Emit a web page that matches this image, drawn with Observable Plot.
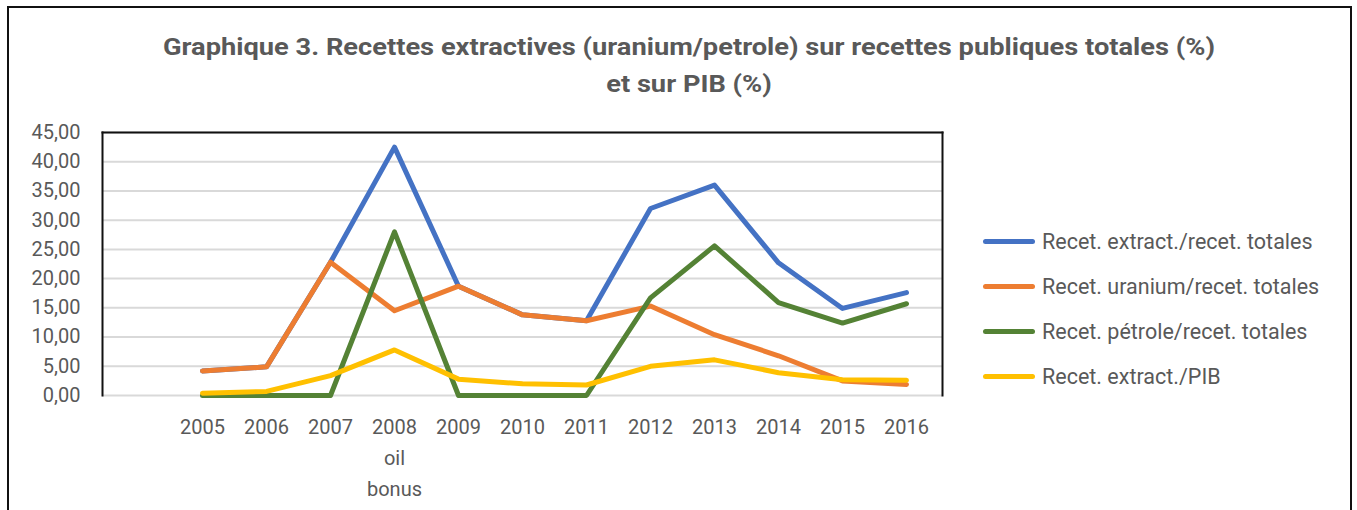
<!DOCTYPE html>
<html>
<head>
<meta charset="utf-8">
<script src="https://cdn.jsdelivr.net/npm/d3@7"></script>
<script src="https://cdn.jsdelivr.net/npm/@observablehq/plot@0.6"></script>
<style>
  html, body { margin: 0; padding: 0; background: #fff; }
  body { width: 1357px; height: 510px; position: relative; overflow: hidden; font-family: Roboto, "Liberation Sans", sans-serif; }
  #frame { position: absolute; left: 7px; top: 6px; width: 1345px; height: 520px; border: 2px solid #111; border-bottom: none; box-sizing: border-box; }
  #title { position: absolute; left: 0; width: 1378px; top: 29px; text-align: center; font-weight: 700; font-size: 23px; line-height: 37px; color: #595959; transform-origin: 689px 0; }
  #title span { display: inline-block; white-space: nowrap; }
  #chart { position: absolute; left: 0; top: 0; }
  #legend { position: absolute; left: 983px; top: 0; font-size: 21.5px; color: #595959; }
  .item { position: absolute; left: 0; white-space: nowrap; display: flex; align-items: center; height: 30px; }
  .sw { width: 52px; height: 5px; border-radius: 3px; margin-right: 7px; }
</style>
</head>
<body>
<div id="frame"></div>
<div id="title"><span id="t1">Graphique 3. Recettes extractives (uranium/petrole) sur recettes publiques totales (%)</span><br><span>et sur PIB (%)</span></div>
<div id="chart"></div>
<div id="legend"></div>
<script>
const categories = ["", "2005", "2006", "2007", "2008", "2009", "2010", "2011", "2012", "2013", "2014", "2015", "2016"];
const years = ["2005", "2006", "2007", "2008", "2009", "2010", "2011", "2012", "2013", "2014", "2015", "2016"];
const yTicks = [0, 5, 10, 15, 20, 25, 30, 35, 40, 45];

const seriesNames = [
  "Recet. extract./recet. totales",
  "Recet. uranium/recet. totales",
  "Recet. pétrole/recet. totales",
  "Recet. extract./PIB"
];
const seriesColors = ["#4472C4", "#ED7D31", "#548235", "#FFC000"];

const extractTotal = [4.2, 4.9, 22.8, 42.5, 18.7, 13.8, 12.8, 32.0, 36.0, 22.7, 14.9, 17.6];
const uraniumTotal = [4.2, 4.9, 22.8, 14.5, 18.7, 13.8, 12.8, 15.3, 10.4, 6.8, 2.5, 1.9];
const petroleTotal = [0, 0, 0, 28.0, 0, 0, 0, 16.7, 25.6, 15.9, 12.4, 15.7];
const extractPIB = [0.4, 0.7, 3.4, 7.8, 2.8, 2.0, 1.8, 5.0, 6.1, 3.9, 2.7, 2.6];

const seriesValues = [extractTotal, uraniumTotal, petroleTotal, extractPIB];
const rows = [];
seriesValues.forEach((vals, i) => {
  vals.forEach((v, j) => rows.push({series: seriesNames[i], year: years[j], value: v}));
});

const fmt = v => d3.format(".2f")(v).replace(".", ",");
const xFmt = d => d === "2008" ? "2008\noil\nbonus" : d;

const chart = Plot.plot({
  width: 960,
  height: 510,
  marginLeft: 102,
  marginRight: 18,
  marginTop: 132,
  marginBottom: 115,
  style: {fontFamily: "Roboto, 'Liberation Sans', sans-serif", fontSize: "20px", color: "#595959", background: "transparent", overflow: "visible"},
  x: {type: "point", domain: categories, padding: 0.5},
  y: {domain: [0, 45]},
  color: {domain: seriesNames, range: seriesColors},
  marks: [
    Plot.ruleY(yTicks, {stroke: "#d9d9d9", strokeWidth: 2}),
    Plot.frame({anchor: "top", stroke: "#111", strokeWidth: 2}),
    Plot.frame({anchor: "left", stroke: "#111", strokeWidth: 2}),
    Plot.frame({anchor: "right", stroke: "#111", strokeWidth: 2}),
    Plot.axisY(yTicks, {tickSize: 0, tickPadding: 22, tickFormat: fmt, fill: "#595959", fontSize: 20, label: null}),
    Plot.axisX(categories, {tickSize: 0, tickPadding: 16, tickFormat: xFmt, fill: "#595959", fontSize: 20, lineHeight: 1.55, label: null}),
    Plot.line(rows, {x: "year", y: "value", z: "series", stroke: "series", strokeWidth: 5, strokeLinejoin: "round", strokeLinecap: "round"})
  ]
});
document.getElementById("chart").appendChild(chart);

// stretch the title horizontally to the reference's width
const t1 = document.getElementById("t1");
const w = t1.getBoundingClientRect().width;
if (w > 0) document.getElementById("title").style.transform = `scaleX(${1052 / w})`;

const legend = document.getElementById("legend");
const legendTops = [226, 271, 316, 361];
seriesNames.forEach((name, i) => {
  const item = document.createElement("div");
  item.className = "item";
  item.style.top = legendTops[i] + "px";
  const sw = document.createElement("div");
  sw.className = "sw";
  sw.style.background = seriesColors[i];
  const label = document.createElement("span");
  label.textContent = name;
  item.appendChild(sw);
  item.appendChild(label);
  legend.appendChild(item);
});
</script>
</body>
</html>
